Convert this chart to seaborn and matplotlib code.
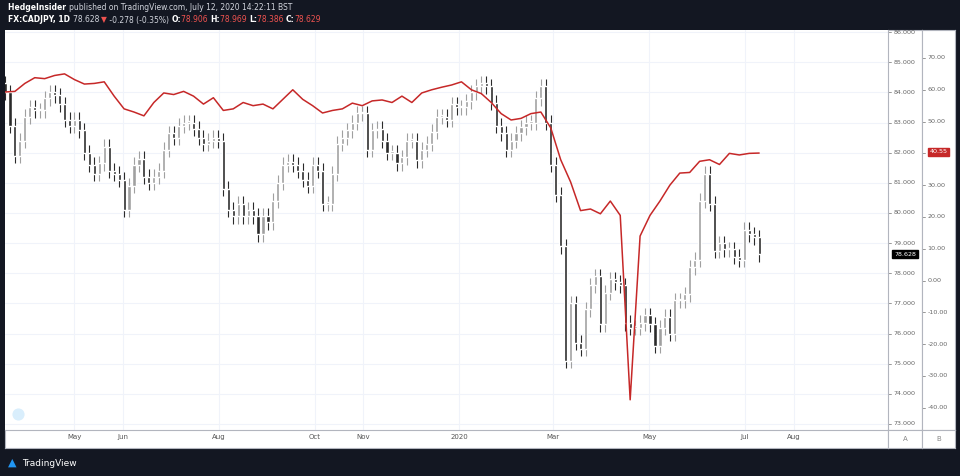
import numpy as np
import pandas as pd
import matplotlib
matplotlib.use("Agg")
import matplotlib.pyplot as plt
import seaborn as sns

sns.set_style("white")
plt.rcParams['font.family'] = ['DejaVu Sans']

# CADJPY closes, sampled roughly every 3 calendar days
closes = [84.0, 82.9, 81.9, 82.4, 83.2, 83.5, 83.4, 83.4, 83.8, 84.0, 83.9, 83.6, 83.1, 82.9, 83.1, 82.75,
          82.0, 81.6, 81.3, 81.65, 82.2, 81.4, 81.3, 81.1, 80.1, 80.9, 81.6, 81.8, 81.2, 81.0, 81.2, 81.4,
          82.1, 82.65, 82.5, 82.9, 83.0, 83.0, 82.8, 82.5, 82.3, 82.4, 82.5, 82.4, 80.8, 80.1, 79.9, 80.3,
          79.9, 80.1, 79.9, 79.3, 79.9, 79.7, 80.4, 81.0, 81.6, 81.7, 81.6, 81.4, 81.1, 80.9, 81.6, 81.4,
          80.3, 80.3, 81.3, 82.3, 82.5, 82.75, 83.0, 83.3, 83.3, 82.1, 82.75, 82.8, 82.4, 82.0, 82.0, 81.65,
          81.85, 82.4, 82.4, 81.75, 82.1, 82.3, 82.7, 83.2, 83.2, 83.1, 83.6, 83.5, 83.5, 83.7, 84.0, 84.2,
          84.3, 84.2, 83.65, 82.9, 82.65, 82.1, 82.4, 82.65, 82.85, 83.0, 83.0, 83.8, 84.2, 83.0, 81.6, 80.6,
          78.9, 75.1, 77.0, 75.7, 75.5, 76.8, 77.6, 77.9, 76.3, 77.35, 77.8, 77.7, 77.6, 76.35, 76.2, 76.2,
          76.35, 76.6, 76.3, 75.6, 76.2, 76.55, 76.0, 77.1, 77.1, 77.3, 78.2, 78.45, 80.4, 81.3, 80.3, 78.75,
          79.0, 78.8, 78.8, 78.55, 78.45, 79.45, 79.3, 79.2, 78.628]
first_open = 84.3

# Overlay oscillator (red line)
osc = [59.3, 59.5, 62, 63.8, 63.5, 64.5, 65, 63.2, 61.8, 62, 62.5, 58, 54, 53, 51.8, 56, 59, 58.5, 59.5,
       58, 55.5, 57.5, 53.5, 54, 56, 55, 55.5, 54, 57, 60, 57, 55, 52.7, 53.5, 54, 55.8, 55, 56.5, 56.8,
       56, 58, 56, 59, 60, 60.8, 61.5, 62.5, 60, 58.8, 56, 52.5, 50.5, 51, 52.5, 53, 48, 38, 31, 22, 22.5,
       21, 25, 20.5, -37.5, 14, 20.5, 25, 30, 33.8, 34, 37.5, 38, 36.5, 40, 39.5, 40, 40.1]

start = pd.Timestamp("2019-03-18")
end = pd.Timestamp("2020-07-10")
dates = pd.date_range(start, end, periods=len(closes))
osc_dates = pd.date_range(start, end, periods=len(osc))
opens = [first_open] + closes[:-1]

tick_dates = ["2019-05-01", "2019-06-01", "2019-08-01", "2019-10-01", "2019-11-01", "2020-01-01",
              "2020-03-01", "2020-05-01", "2020-07-01", "2020-08-01"]
tick_labels = ["May", "Jun", "Aug", "Oct", "Nov", "2020", "Mar", "May", "Jul", "Aug"]
price_ticks = [73, 74, 75, 76, 77, 78, 79, 80, 81, 82, 83, 84, 85, 86]
osc_ticks = [-40, -30, -20, -10, 0, 10, 20, 30, 40, 50, 60, 70]

W, H = 960, 476
fig = plt.figure(figsize=(9.6, 4.76), dpi=100)
fig.patch.set_facecolor("#131722")

def rect(x0, y0, x1, y1):
    return [x0 / W, 1 - y1 / H, (x1 - x0) / W, (y1 - y0) / H]

xlim = (start, start + pd.Timedelta(days=562))
pmin, pmax = 72.8, 86.07
omin, omax = -47.0, 78.8

ax = fig.add_axes(rect(5, 30, 888, 430))
ax.set_facecolor("white")
for d in tick_dates:
    ax.axvline(pd.Timestamp(d), color="#f0f3fa", lw=0.8, zorder=0)
for p in price_ticks:
    ax.axhline(p, color="#f0f3fa", lw=0.8, zorder=0)

up = [c >= o for o, c in zip(opens, closes)]
lo = [min(o, c) for o, c in zip(opens, closes)]
hi = [max(o, c) for o, c in zip(opens, closes)]
cols = ["#a0a0a0" if u else "#2a2a2a" for u in up]
ax.vlines(dates, [l - 0.25 for l in lo], [h + 0.25 for h in hi], colors=cols, lw=0.8, zorder=2)
ax.bar(dates, [max(h - l, 0.05) for h, l in zip(hi, lo)], bottom=lo, width=2.0, color=cols, zorder=3)
ax.set_xlim(*xlim)
ax.set_ylim(pmin, pmax)
ax.set_xticks([])
ax.set_yticks([])
for s in ax.spines.values():
    s.set_visible(False)

ax2 = ax.twinx()
sns.lineplot(x=osc_dates, y=osc, ax=ax2, color="#c62828", lw=1.1, zorder=4)
ax2.set_ylim(omin, omax)
ax2.set_xlim(*xlim)
ax2.set_yticks([])
ax2.set_xlabel("")
ax2.set_ylabel("")
for s in ax2.spines.values():
    s.set_visible(False)
ax2.scatter([0.015], [0.04], transform=ax.transAxes, s=60, color="#d9eefc", zorder=5)

# Price panel A
pa = fig.add_axes(rect(888, 30, 922, 430))
pa.set_facecolor("white")
pa.set_ylim(pmin, pmax)
pa.set_xlim(0, 1)
pa.set_xticks([]); pa.set_yticks([])
for p in price_ticks:
    pa.plot([0, 0.1], [p, p], color="#888", lw=0.6)
    pa.text(0.16, p, f"{p:.3f}", fontsize=4.6, color="#666", va="center", ha="left")
pa.text(0.5, closes[-1], f"{closes[-1]:.3f}", fontsize=4.6, color="white", va="center", ha="center",
        zorder=5, bbox=dict(boxstyle="square,pad=0.25", fc="black", ec="black"))
for s in pa.spines.values():
    s.set_color("#b2b5be")

# Oscillator panel B
pb = fig.add_axes(rect(922, 30, 955, 430))
pb.set_facecolor("white")
pb.set_ylim(omin, omax)
pb.set_xlim(0, 1)
pb.set_xticks([]); pb.set_yticks([])
for v in osc_ticks:
    pb.plot([0, 0.1], [v, v], color="#888", lw=0.6)
    if v != 40:
        pb.text(0.16, v, f"{v:.2f}", fontsize=4.6, color="#666", va="center", ha="left")
pb.text(0.5, 40.55, "40.55", fontsize=4.6, color="white", va="center", ha="center",
        bbox=dict(boxstyle="square,pad=0.25", fc="#c62828", ec="#c62828"))
for s in pb.spines.values():
    s.set_color("#b2b5be")

# Time axis strip
ta = fig.add_axes(rect(5, 430, 888, 448))
ta.set_facecolor("white")
ta.set_xlim(*xlim)
ta.set_ylim(0, 1)
ta.set_yticks([])
ta.set_xticks([pd.Timestamp(d) for d in tick_dates])
ta.set_xticklabels(tick_labels, fontsize=5, color="#555")
ta.tick_params(axis="x", direction="in", pad=-10, length=3, color="#888")
for s in ta.spines.values():
    s.set_color("#b2b5be")

for x0, x1, lab in [(888, 922, "A"), (922, 955, "B")]:
    c = fig.add_axes(rect(x0, 430, x1, 448))
    c.set_facecolor("white")
    c.set_xticks([]); c.set_yticks([])
    c.text(0.5, 0.5, lab, fontsize=5, color="#888", ha="center", va="center")
    for s in c.spines.values():
        s.set_color("#b2b5be")

fig.canvas.draw()
r = fig.canvas.get_renderer()

def run(parts, y):
    xpos = 8 / W
    for t, c, w in parts:
        tx = fig.text(xpos, 1 - y / H, t, fontsize=5.5, color=c, fontweight=w, va="center")
        bb = tx.get_window_extent(renderer=r)
        xpos += bb.width / W

run([("HedgeInsider ", "white", "bold"),
     ("published on TradingView.com, July 12, 2020 14:22:11 BST", "#d1d4dc", "normal")], 8)
run([("FX:CADJPY, 1D ", "white", "bold"), ("78.628 ", "#d1d4dc", "normal"), ("▼", "#ef5350", "normal"),
     (" -0.278 (-0.35%) ", "#d1d4dc", "normal"), ("O:", "white", "bold"), ("78.906 ", "#ef5350", "normal"),
     ("H:", "white", "bold"), ("78.969 ", "#ef5350", "normal"), ("L:", "white", "bold"),
     ("78.386 ", "#ef5350", "normal"), ("C:", "white", "bold"), ("78.629", "#ef5350", "normal")], 20)

fig.text(8 / W, 1 - 463 / H, "▲", fontsize=8, color="#2196f3", va="center")
fig.text(22 / W, 1 - 463 / H, "TradingView", fontsize=6.5, color="white", va="center")

fig.savefig("out.png", dpi=100, facecolor=fig.get_facecolor())
